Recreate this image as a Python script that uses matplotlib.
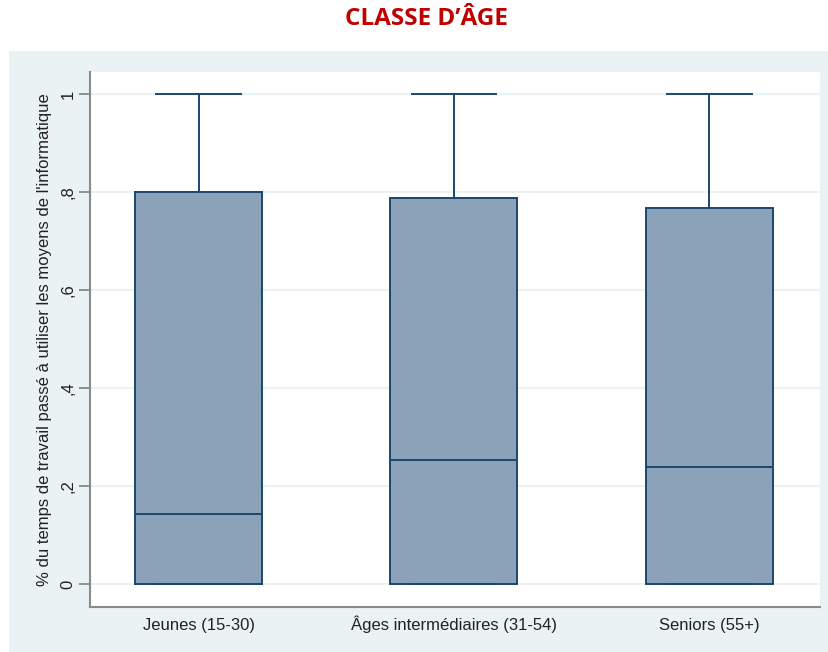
import matplotlib
matplotlib.use("Agg")
import matplotlib.pyplot as plt
from matplotlib.patches import Rectangle

categories = ["Jeunes (15-30)", "Âges intermédiaires (31-54)", "Seniors (55+)"]
whislo = [0.0, 0.0, 0.0]
q1 = [0.0, 0.0, 0.0]
med = [0.142, 0.253, 0.239]
q3 = [0.800, 0.788, 0.767]
whishi = [1.0, 1.0, 1.0]
yticks = [0, 0.2, 0.4, 0.6, 0.8, 1.0]
yticklabels = ["0", ",2", ",4", ",6", ",8", "1"]

plt.rcParams['font.family'] = ['Liberation Sans', 'DejaVu Sans']

fig = plt.figure(figsize=(8.29, 6.52), dpi=100)
fig.patch.set_facecolor("white")
panel_col = "#EAF2F3"
panel = Rectangle((9/829, 0), 1 - 9/829, (652-51)/652,
                  transform=fig.transFigure, facecolor=panel_col,
                  edgecolor="none", zorder=-5)
fig.add_artist(panel)

ax = fig.add_axes([90/829, (652-607)/652, (820-90)/829, (607-72)/652])
ax.set_zorder(2)
ax.set_facecolor("white")

stats = []
for i in range(len(categories)):
    stats.append(dict(whislo=whislo[i], q1=q1[i], med=med[i], q3=q3[i],
                      whishi=whishi[i], fliers=[], label=categories[i]))

navy = "#1A476F"
ax.bxp(stats, positions=[1, 2, 3], widths=0.498, patch_artist=True,
       showfliers=False, capwidths=0.333,
       boxprops=dict(facecolor="#8CA2B8", edgecolor=navy, linewidth=1.4),
       medianprops=dict(color=navy, linewidth=1.4),
       whiskerprops=dict(color=navy, linewidth=1.4),
       capprops=dict(color=navy, linewidth=1.4), zorder=3)

ax.set_xlim(0.573, 3.435)
ax.set_ylim(-0.047, 1.045)
ax.set_yticks(yticks)
ax.set_yticklabels(yticklabels, rotation=90, va="center", fontsize=12)
ax.yaxis.grid(True, color=panel_col, linewidth=1.5, zorder=0)
ax.set_axisbelow(True)
ax.tick_params(axis="y", length=8, width=1.2, color="#7f7f7f", pad=2.5, labelcolor="#222222")
ax.tick_params(axis="x", length=0, pad=16.5, labelsize=12, labelcolor="#222222")
ax.set_xticks([1, 2, 3])
ax.set_xticklabels(categories, va="baseline")

for s in ["top", "right"]:
    ax.spines[s].set_visible(False)
for s in ["left", "bottom"]:
    ax.spines[s].set_color("#8a8a8a")
    ax.spines[s].set_linewidth(1.5)

ax.set_ylabel("% du temps de travail passé à utiliser les moyens de l'informatique",
              fontsize=12, color="#222222", labelpad=6)

fig.text(426/829, 1 - 19/652, "CLASSE D’ÂGE", ha="center", va="center",
         color="#C00000", fontsize=17.5, fontweight="bold", family=["Open Sans", "DejaVu Sans"])

fig.savefig("out.png", dpi=100)
